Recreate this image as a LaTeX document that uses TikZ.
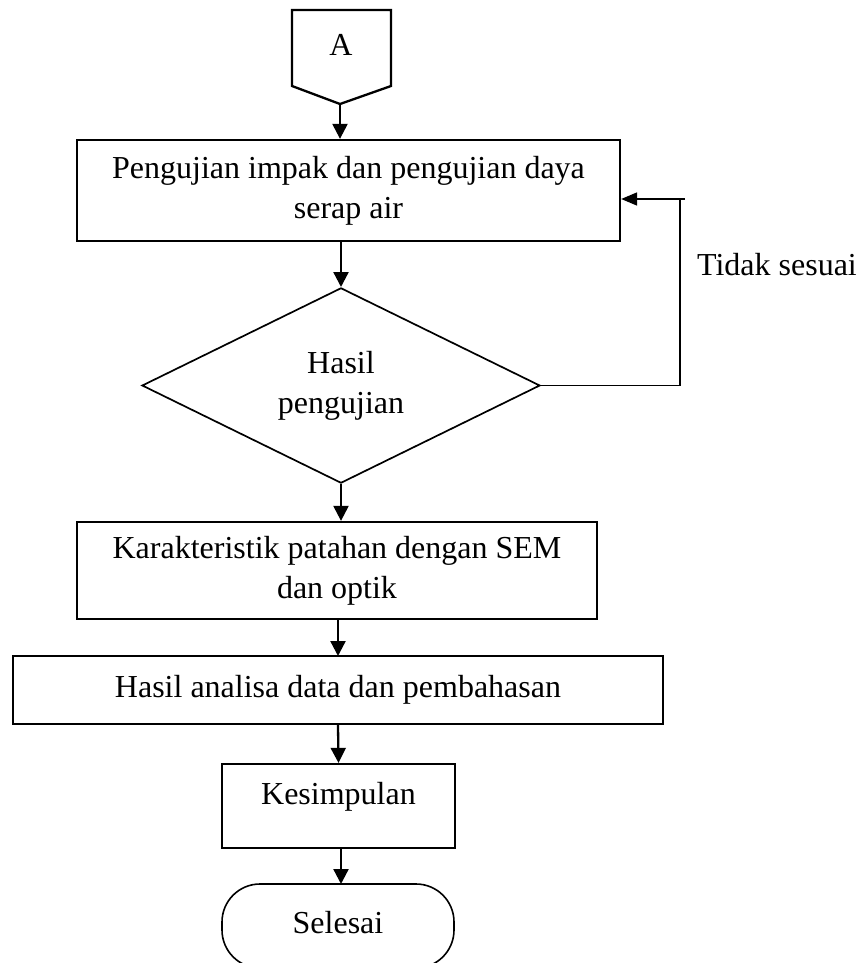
\documentclass[tikz,border=0pt]{standalone}
\usepackage{fontspec}
\setmainfont{Liberation Serif}
\usetikzlibrary{arrows.meta,shapes.geometric}
\begin{document}
\begin{tikzpicture}[x=1pt,y=-1pt,
  every node/.style={font=\fontsize{32}{40}\selectfont},
  procbox/.style={draw,line width=2.3pt,inner sep=0pt,align=center},
  decbox/.style={draw,diamond,line width=1.7pt,inner sep=0pt,align=center},
  termbox/.style={draw,line width=1.6pt,rounded corners=38pt,inner sep=0pt},
  flow/.style={line width=2.3pt,-{Triangle[width=15pt,length=15pt]}},
  thin/.style={line width=1.7pt}]
\useasboundingbox (0,0) rectangle (867,963);
% off-page connector A
\draw[line width=2.3pt,line join=miter] (292,10) -- (391,10) -- (391,86) -- (340,104) -- (292,86) -- cycle;
\node (A) at (341,45) {A};
\coordinate (Atip) at (340,104);
% boxes
\node[procbox,minimum width=543pt,minimum height=101pt] (b1) at (348.5,190.5)
  {Pengujian impak dan pengujian daya\\serap air};
\node[decbox,minimum width=398pt,minimum height=195pt] (dec) at (341,385.5)
  {Hasil\\pengujian};
\node[procbox,minimum width=520pt,minimum height=97pt] (b2) at (337,570.5)
  {Karakteristik patahan dengan SEM\\dan optik};
\node[procbox,minimum width=650pt,minimum height=68pt] (b3) at (338,690)
  {Hasil analisa data dan pembahasan};
\node[procbox,minimum width=233pt,minimum height=84pt] (b4) at (338.5,806) {};
\node (b4t) at (338.5,797) {Kesimpulan};
\node[termbox,minimum width=232pt,minimum height=84pt] (end) at (338,926) {};
\node (endt) at (338,923) {Selesai};
\node (ts) at (777,265) {Tidak sesuai};
% connectors
\draw[flow] (Atip) -- (Atip |- b1.north);
\draw[flow] (dec.north |- b1.south) -- (dec.north);
\draw[flow] (dec.south) -- (dec.south |- b2.north);
\draw[flow] (338,620) -- (338,656);
\draw[flow] (b3.south) -- (b4.north);
\draw[flow] (341,848) -- (341,884);
% feedback
\coordinate (f1) at (680,385.5);
\coordinate (f2) at (680,199);
\coordinate (f3) at (685,199);
\draw[thin] (dec.east) -- (f1) -- (f2);
\draw[thin,-{Triangle[width=13pt,length=16pt]}] (f3) -- (f3 -| b1.east);
\end{tikzpicture}
\end{document}
